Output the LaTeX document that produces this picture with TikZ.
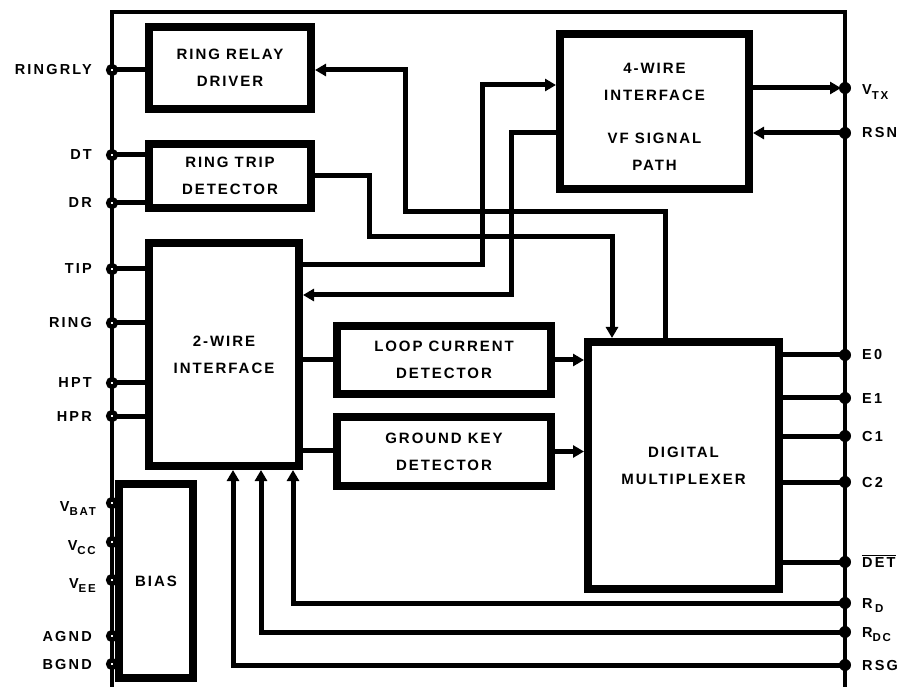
\documentclass[tikz,border=0pt]{standalone}
\usepackage{fontspec}
\setmainfont{Liberation Sans}
\newfontfamily\boxfont[LetterSpace=13]{Liberation Sans Bold}
\newfontfamily\pinfont[LetterSpace=15]{Liberation Sans Bold}
\usetikzlibrary{arrows.meta}
\newcommand\pinsub[1]{\raisebox{-4.5pt}{\fontsize{11.5}{11.5}\selectfont #1}}
\begin{document}
\begin{tikzpicture}[x=1pt,y=-1pt,
  blk/.style={draw, line width=8pt, inner sep=0pt, align=center,
    font=\boxfont\fontsize{15}{27}\selectfont},
  txt/.style={inner sep=0pt, align=center, font=\boxfont\fontsize{15}{27}\selectfont},
  frame/.style={line width=4.5pt},
  wire/.style={line width=5pt},
  arr/.style={wire, -{Triangle[length=11pt,width=12pt]}},
  lpin/.style={circle, draw, fill=white, line width=4.5pt, inner sep=0pt, minimum size=7.5pt},
  rpin/.style={circle, fill=black, inner sep=0pt, minimum size=12pt},
  lbl/.style={inner sep=0pt, font=\pinfont\fontsize{14.5}{14.5}\selectfont}]
\useasboundingbox (0,0) rectangle (898,687);
% frame
\draw[frame] (112,687) -- (112,12) -- (845,12) -- (845,687);
% boxes
\node[blk, minimum width=162pt, minimum height=82pt] (rrd) at (230,68) {RING RELAY\\DRIVER};
\node[blk, minimum width=162pt, minimum height=64pt] (rtd) at (230,176) {RING TRIP\\DETECTOR};
\node[blk, minimum width=189pt, minimum height=155pt] (fw) at (654.5,111.5) {};
\node[txt] (fwa) at (654.5,82) {4-WIRE\\INTERFACE};
\node[txt] (fwb) at (654.5,152) {VF SIGNAL\\PATH};
\node[blk, minimum width=150pt, minimum height=223pt] (tw) at (224,354.5) {2-WIRE\\INTERFACE};
\node[blk, minimum width=214pt, minimum height=68pt] (lcd) at (444,360) {LOOP CURRENT\\DETECTOR};
\node[blk, minimum width=214pt, minimum height=69pt] (gkd) at (444,451.5) {GROUND KEY\\DETECTOR};
\node[blk, minimum width=191pt, minimum height=247pt] (mux) at (683.5,465.5) {DIGITAL\\MULTIPLEXER};
\node[blk, minimum width=74pt, minimum height=194pt] (bias) at (156,581) {BIAS};
% pin coordinates
\coordinate (pRR) at (112,70);
\coordinate (pDT) at (112,155);
\coordinate (pDR) at (112,203);
\coordinate (pTIP) at (112,269);
\coordinate (pRING) at (112,323);
\coordinate (pHPT) at (112,383);
\coordinate (pHPR) at (112,416);
\coordinate (pVBAT) at (112,503);
\coordinate (pVCC) at (112,542);
\coordinate (pVEE) at (112,580);
\coordinate (pAGND) at (112,636);
\coordinate (pBGND) at (112,664);
\coordinate (pVTX) at (845,88);
\coordinate (pRSN) at (845,133);
\coordinate (pE0) at (845,355);
\coordinate (pE1) at (845,398);
\coordinate (pC1) at (845,436);
\coordinate (pC2) at (845,482);
\coordinate (pDET) at (845,562);
\coordinate (pRD) at (845,603);
\coordinate (pRDC) at (845,632);
\coordinate (pRSG) at (845,665);
% left wires
\draw[wire] (pRR) -- (pRR -| rrd.west);
\draw[wire] (pDT) -- (pDT -| rtd.west);
\draw[wire] (pDR) -- (pDR -| rtd.west);
\foreach \p in {pTIP,pRING,pHPT,pHPR} \draw[wire] (\p) -- (\p -| tw.west);
% right wires
\foreach \p in {pE0,pE1,pC1,pC2,pDET} \draw[wire] (\p -| mux.east) -- (\p);
\coordinate (vtxend) at (841,88);
\draw[arr] (pVTX -| fw.east) -- (vtxend);
\draw[arr] (pRSN) -- (pRSN -| fw.east);
% ring trip to mux
\coordinate (rt1) at (369,237);
\coordinate (rt2) at (612,237);
\draw[arr] (rtd.east) -| (rt1) -- (rt2) -- (rt2 |- mux.north);
% mux to ring relay driver
\coordinate (rr1) at (665,212);
\coordinate (rr2) at (405,212);
\coordinate (rr3) at (405,70);
\draw[arr] (rr1 |- mux.north) -- (rr1) -- (rr2) -- (rr3) -- (rr3 -| rrd.east);
% 2-wire to 4-wire
\coordinate (tf1) at (482,265);
\coordinate (tf2) at (482,85);
\draw[arr] (tf1 -| tw.east) -- (tf1) -- (tf2) -- (tf2 -| fw.west);
% 4-wire to 2-wire
\coordinate (ft1) at (511,133);
\coordinate (ft2) at (511,295);
\draw[arr] (ft1 -| fw.west) -- (ft1) -- (ft2) -- (ft2 -| tw.east);
% detectors
\coordinate (l1) at (318,360);
\draw[wire] (l1 -| tw.east) -- (l1 -| lcd.west);
\draw[arr] (lcd.east) -- (lcd.east -| mux.west);
\coordinate (g1) at (318,450);
\draw[wire] (g1 -| tw.east) -- (g1 -| gkd.west);
\draw[arr] (gkd.east) -- (gkd.east -| mux.west);
% bottom returns
\coordinate (rdx) at (293,603);
\draw[arr] (pRD) -- (rdx) -- (rdx |- tw.south);
\coordinate (rdcx) at (261,632);
\draw[arr] (pRDC) -- (rdcx) -- (rdcx |- tw.south);
\coordinate (rsgx) at (233,665);
\draw[arr] (pRSG) -- (rsgx) -- (rsgx |- tw.south);
% pins
\foreach \p in {pRR,pDT,pDR,pTIP,pRING,pHPT,pHPR,pVBAT,pVCC,pVEE,pAGND,pBGND}
  \node[lpin] (n\p) at (\p) {};
\foreach \p in {pVTX,pRSN,pE0,pE1,pC1,pC2,pDET,pRD,pRDC,pRSG}
  \node[rpin] (n\p) at (\p) {};
% left labels
\node[lbl, anchor=base east] (lRR) at (92,75) {RINGRLY};
\node[lbl, anchor=base east] (lDT) at (92,160) {DT};
\node[lbl, anchor=base east] (lDR) at (92,208) {DR};
\node[lbl, anchor=base east] (lTIP) at (92,274) {TIP};
\node[lbl, anchor=base east] (lRING) at (92,328) {RING};
\node[lbl, anchor=base east] (lHPT) at (92,388) {HPT};
\node[lbl, anchor=base east] (lHPR) at (92,421) {HPR};
\node[lbl, anchor=base east] (lVBAT) at (96,511) {V\pinsub{BAT}};
\node[lbl, anchor=base east] (lVCC) at (96,550) {V\pinsub{CC}};
\node[lbl, anchor=base east] (lVEE) at (96,588) {V\pinsub{EE}};
\node[lbl, anchor=base east] (lAGND) at (92,641) {AGND};
\node[lbl, anchor=base east] (lBGND) at (92,669) {BGND};
% right labels
\node[lbl, anchor=base west] (lVTX) at (862,95) {V\pinsub{TX}};
\node[lbl, anchor=base west] (lRSN) at (862,138) {RSN};
\node[lbl, anchor=base west] (lE0) at (862,360) {E0};
\node[lbl, anchor=base west] (lE1) at (862,403) {E1};
\node[lbl, anchor=base west] (lC1) at (862,441) {C1};
\node[lbl, anchor=base west] (lC2) at (862,487) {C2};
\node[lbl, anchor=base west] (lDET) at (862,567) {$\overline{\mbox{DET}}$};
\node[lbl, anchor=base west] (lRD) at (862,608) {R\,\pinsub{D}};
\node[lbl, anchor=base west] (lRDC) at (862,637) {R\pinsub{DC}};
\node[lbl, anchor=base west] (lRSG) at (862,670) {RSG};
\end{tikzpicture}
\end{document}
